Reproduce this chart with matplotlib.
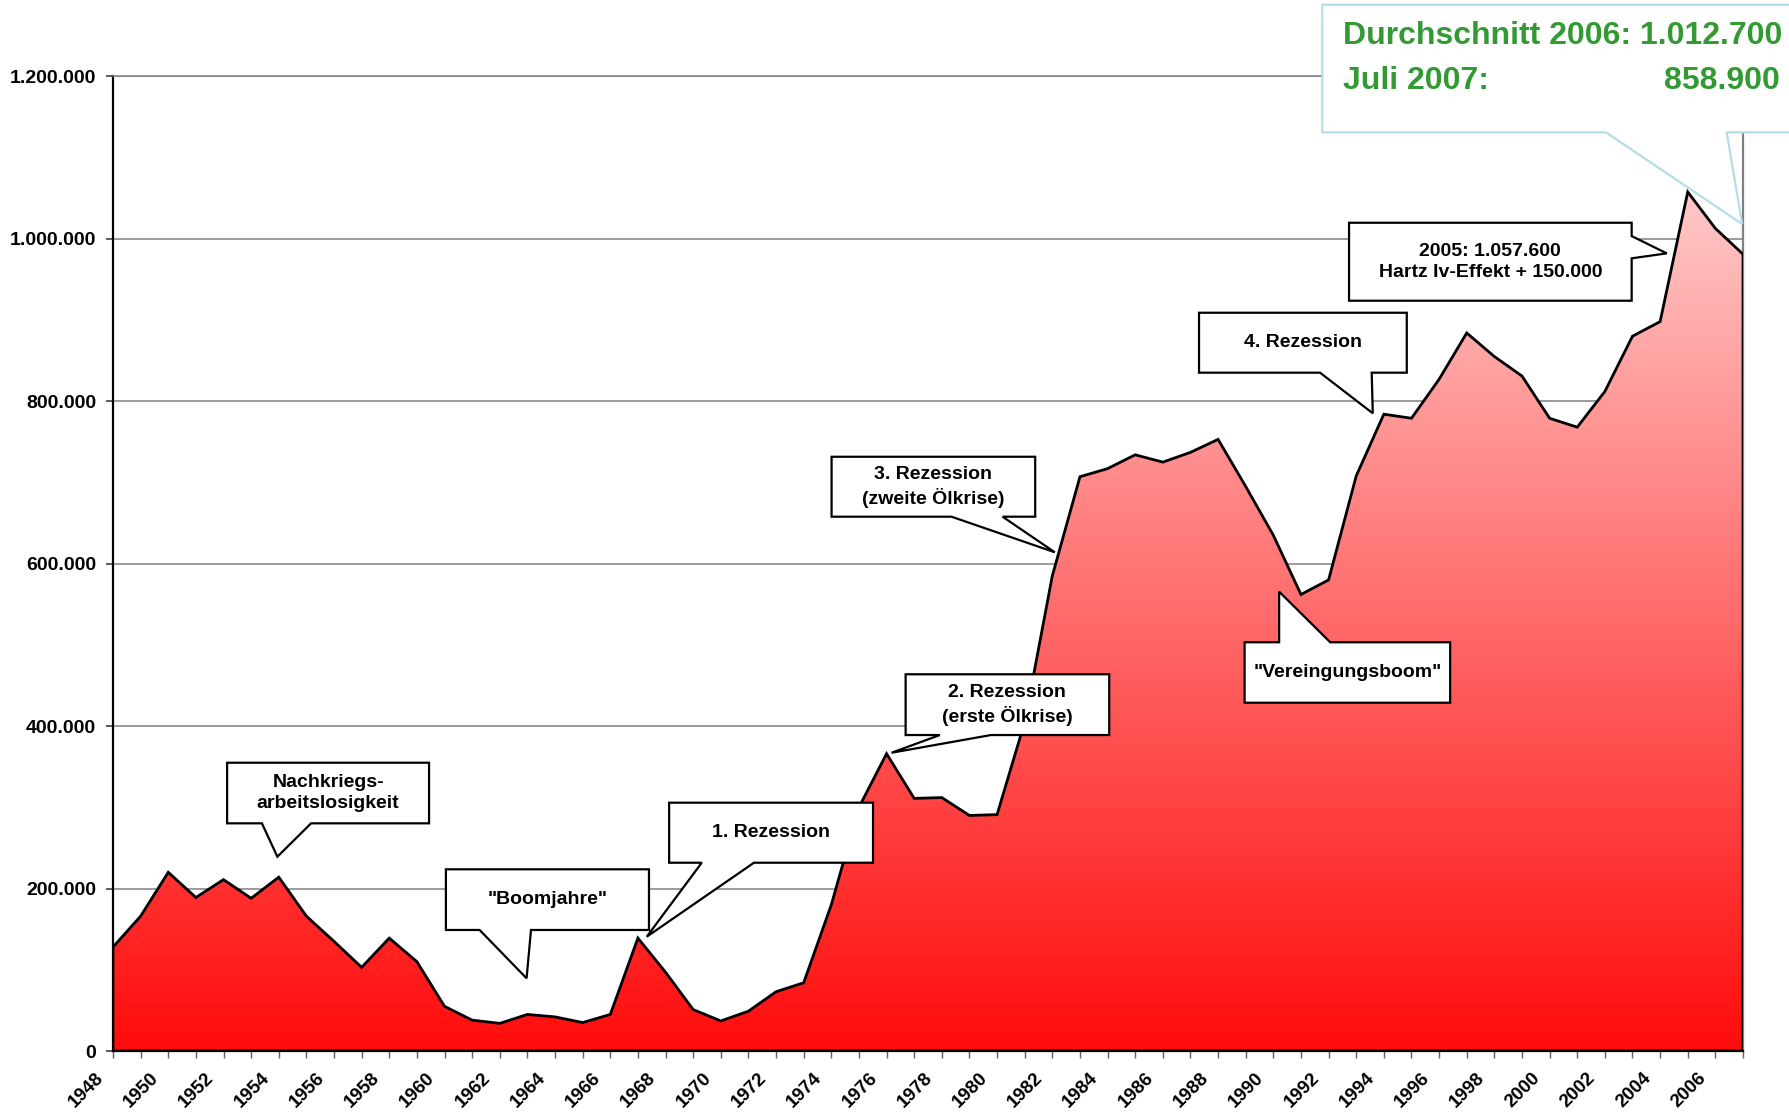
import numpy as np
import matplotlib
matplotlib.use("Agg")
import matplotlib.pyplot as plt
from matplotlib.patches import Polygon
from matplotlib.colors import LinearSegmentedColormap
from matplotlib.ticker import FixedLocator, FuncFormatter, MultipleLocator
import matplotlib.transforms as mtransforms

plt.rcParams['font.family'] = ['Liberation Sans', 'DejaVu Sans']
plt.rcParams['font.weight'] = 'bold'

# ---------------- data ----------------
years = list(range(1948, 2008))
unemployed = [
    128000, 166000, 220000, 189000, 211000, 188000, 214000, 166000, 135000, 103000,  # 1948-1957
    139000, 110000, 55000, 38000, 34000, 45000, 42000, 35000, 45000, 139000,          # 1958-1967
    97000, 51000, 37000, 49000, 73000, 84000, 180000, 300000, 366000, 311000,         # 1968-1977
    312000, 290000, 291000, 405000, 585000, 707000, 717000, 734000, 725000, 737000,   # 1978-1987
    753000, 695000, 635000, 562000, 580000, 708000, 784000, 779000, 827000, 884000,   # 1988-1997
    855000, 831000, 779000, 768000, 812000, 880000, 898000, 1057600, 1012700, 981000  # 1998-2007
]
y_ticks = [0, 200000, 400000, 600000, 800000, 1000000, 1200000]
x_label_years = list(range(1948, 2007, 2))

callout_texts = [
    "Nachkriegs-\narbeitslosigkeit",
    "\"Boomjahre\"",
    "1. Rezession",
    "2. Rezession\n(erste Ölkrise)",
    "3. Rezession\n(zweite Ölkrise)",
    "\"Vereingungsboom\"",
    "4. Rezession",
    "2005: 1.057.600\nHartz Iv-Effekt + 150.000",
]
info_line1_label = "Durchschnitt 2006: 1.012.700"
info_line2_label = "Juli 2007:"
info_line2_value = "858.900"

# ---------------- figure ----------------
W, H = 1789, 1115
fig = plt.figure(figsize=(W / 100, H / 100), dpi=100)
ax = fig.add_axes([113 / W, 1 - 1051 / H, (1743 - 113) / W, (1051 - 76.3) / H])

ax.set_xlim(1948, 2007)
ax.set_ylim(0, 1200000)

# gridlines
for yv in y_ticks[1:]:
    ax.axhline(yv, color='#808080', lw=1.1, zorder=1)

# gradient filled area
poly = ax.fill_between(years, unemployed, 0, facecolor='none', edgecolor='black',
                       lw=2.0, zorder=4, joinstyle='miter')
cmap = LinearSegmentedColormap.from_list(
    'redpink', [(1.0, 12 / 255, 12 / 255), (1.0, 200 / 255, 200 / 255)])
grad = np.linspace(0, 1, 512).reshape(-1, 1)
img = ax.imshow(grad, extent=[1948, 2007, 0, max(unemployed)], origin='lower',
                aspect='auto', cmap=cmap, zorder=3, interpolation='bilinear')
img.set_clip_path(poly.get_paths()[0], transform=ax.transData)
ax.set_xlim(1948, 2007)
ax.set_ylim(0, 1200000)
ax.set_aspect('auto')

# spines
ax.spines['left'].set_color('black')
ax.spines['left'].set_linewidth(1.6)
ax.spines['bottom'].set_color('black')
ax.spines['bottom'].set_linewidth(1.6)
ax.spines['top'].set_color('#808080')
ax.spines['top'].set_linewidth(1.1)
ax.spines['right'].set_color('#808080')
ax.spines['right'].set_linewidth(1.6)
for s in ax.spines.values():
    s.set_zorder(2)

# ticks
ax.yaxis.set_major_locator(FixedLocator(y_ticks))
ax.yaxis.set_major_formatter(FuncFormatter(lambda v, p: f"{int(v):,}".replace(",", ".")))
ax.tick_params(axis='y', direction='out', length=5, width=1.2, color='#404040',
               labelsize=14, pad=7)
ax.xaxis.set_major_locator(FixedLocator(x_label_years))
ax.xaxis.set_minor_locator(MultipleLocator(1))
ax.tick_params(axis='x', which='both', direction='out', length=5, width=1.0,
               color='#606060')
ax.set_xticklabels([str(y) for y in x_label_years], rotation=45, ha='right',
                   va='top', fontsize=13.5, fontweight='bold')
ax.tick_params(axis='x', which='major', pad=8)
offset = mtransforms.ScaledTranslation(-6 / 100, 0, fig.dpi_scale_trans)
for lab in ax.get_xticklabels():
    lab.set_transform(lab.get_transform() + offset)
for lab in ax.get_yticklabels():
    lab.set_fontweight('bold')


def callout(x0, x1, y0, y1, side, b1, b2, tip, text, fs=14, ec='black',
            lw=1.6, z=6, draw_text=True):
    """Rectangle (x0..x1, y0..y1 in data coords) with a wedge on one side."""
    if side == 'bottom':
        verts = [(x0, y1), (x1, y1), (x1, y0), (b2, y0), tip, (b1, y0), (x0, y0)]
    elif side == 'top':
        verts = [(x0, y0), (x0, y1), (b1, y1), tip, (b2, y1), (x1, y1), (x1, y0)]
    else:  # right, b1 = upper y, b2 = lower y
        verts = [(x0, y0), (x0, y1), (x1, y1), (x1, b1), tip, (x1, b2), (x1, y0)]
    p = Polygon(verts, closed=True, facecolor='white', edgecolor=ec, lw=lw,
                zorder=z, clip_on=False, joinstyle='miter')
    ax.add_patch(p)
    if draw_text:
        ax.text((x0 + x1) / 2, (y0 + y1) / 2, text, ha='center', va='center',
                fontsize=fs, fontweight='bold', linespacing=1.3, zorder=z + 1,
                clip_on=False)


callout(1952.13, 1959.44, 280300, 354900, 'bottom', 1953.39, 1955.17,
        (1953.95, 239200), callout_texts[0])
callout(1960.05, 1967.40, 149000, 223700, 'bottom', 1961.27, 1963.13,
        (1962.97, 89500), callout_texts[1])
callout(1968.13, 1975.51, 231800, 305700, 'bottom', 1969.31, 1971.20,
        (1967.32, 140700), callout_texts[2])
callout(1976.69, 1984.06, 389000, 463800, 'bottom', 1977.93, 1979.78,
        (1976.18, 367200), callout_texts[3])
callout(1974.01, 1981.38, 657800, 731600, 'bottom', 1978.35, 1980.20,
        (1982.09, 614000), callout_texts[4])
callout(1988.96, 1996.40, 428800, 503200, 'top', 1990.21, 1992.06,
        (1990.21, 565500), callout_texts[5])
callout(1987.31, 1994.83, 835100, 908900, 'bottom', 1991.69, 1993.56,
        (1993.60, 785100), callout_texts[6])
callout(1992.74, 2002.97, 923700, 1019700, 'right', 1003300, 975900,
        (2004.24, 982000), callout_texts[7])

# green info box (extends beyond the right figure edge)
callout(1991.77, 2013.0, 1131000, 1288100, 'bottom', 2002.04, 2006.41,
        (2006.97, 1018100), '', ec='#B4DEE6', lw=1.6, z=8, draw_text=False)
green = '#339933'
ax.text(1992.52, 1249600, info_line1_label, ha='left', va='center', fontsize=23,
        fontweight='bold', color=green, zorder=10, clip_on=False)
ax.text(1992.52, 1194200, info_line2_label, ha='left', va='center', fontsize=23,
        fontweight='bold', color=green, zorder=10, clip_on=False)
ax.text(2008.34, 1194200, info_line2_value, ha='right', va='center', fontsize=23,
        fontweight='bold', color=green, zorder=10, clip_on=False)

fig.savefig("out.png", dpi=100)
